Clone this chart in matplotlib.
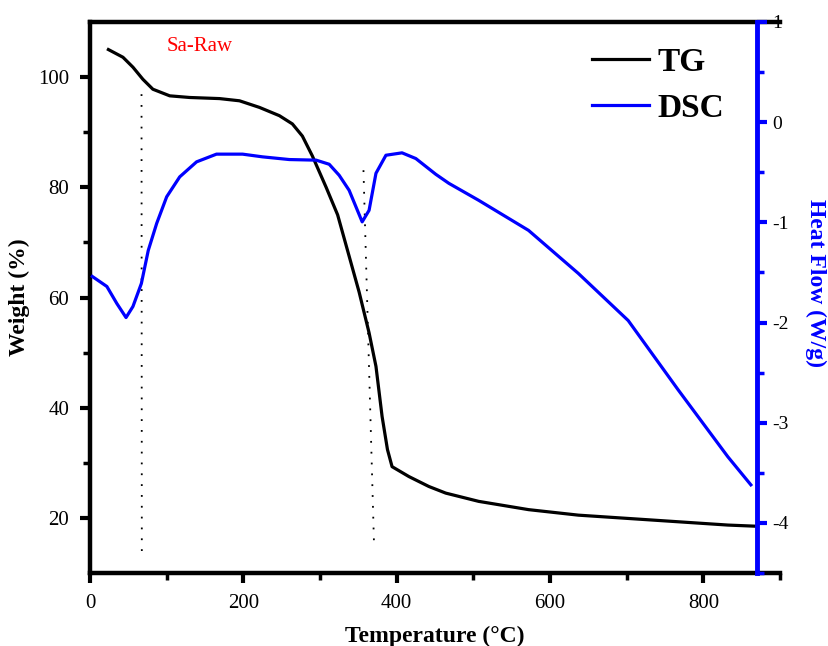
import matplotlib
matplotlib.use("Agg")
import matplotlib.pyplot as plt
from matplotlib.ticker import MultipleLocator

plt.rcParams["font.family"] = ["Liberation Serif", "DejaVu Serif"]
plt.rcParams["axes.unicode_minus"] = False

# TG curve (temperature in C, weight in %)
tg_temp = [24, 43, 56, 69, 82, 104, 130, 169, 195, 221, 247, 264, 277, 290,
           308, 323, 338, 351, 364, 373, 381, 388, 394, 416, 442, 464, 507,
           572, 637, 702, 767, 832, 867]
tg_weight = [105.0, 103.6, 101.8, 99.6, 97.8, 96.6, 96.3, 96.1, 95.7, 94.5,
             93.0, 91.5, 89.3, 85.7, 80.0, 75.0, 67.5, 61.0, 53.6, 47.5, 38.4,
             32.4, 29.3, 27.5, 25.7, 24.5, 23.0, 21.5, 20.5, 19.9, 19.3, 18.7,
             18.5]

# DSC curve (temperature in C, heat flow in W/g)
dsc_temp = [3, 22, 35, 47, 56, 67, 76, 87, 100, 117, 139, 165, 199, 225, 260,
            295, 312, 325, 338, 355, 364, 373, 386, 407, 425, 451, 468, 507,
            572, 637, 702, 767, 832, 862]
dsc_flow = [-1.54, -1.64, -1.81, -1.95, -1.84, -1.61, -1.28, -1.01, -0.745,
            -0.546, -0.396, -0.319, -0.319, -0.346, -0.373, -0.379, -0.42,
            -0.53, -0.68, -0.995, -0.88, -0.51, -0.33, -0.306, -0.363, -0.52,
            -0.61, -0.78, -1.08, -1.51, -1.98, -2.67, -3.34, -3.62]

# dotted guide lines (temperature, weight) endpoints
guide1_temp = [67.2, 67.6]
guide1_weight = [96.9, 12.7]
guide2_temp = [356.7, 370.6]
guide2_weight = [83.1, 14.5]

fig = plt.figure(figsize=(8.29, 6.46), dpi=100)
ax = fig.add_axes([90 / 829, 1 - 573 / 646, 690 / 829, 551 / 646])
ax.set_xlim(0, 900)
ax.set_ylim(10, 110)

line_tg, = ax.plot(tg_temp, tg_weight, color="black", lw=2.3, label="TG")
ax.plot(guide1_temp, guide1_weight, color="black", lw=1.3, ls=(0, (1, 5)))
ax.plot(guide2_temp, guide2_weight, color="black", lw=1.3, ls=(0, (1, 5)))
ax.text(143, 105.5, "Sa-Raw", color="red", fontsize=15, ha="center", va="center")

for s in ["left", "bottom", "top"]:
    ax.spines[s].set_linewidth(3.2)
ax.spines["right"].set_visible(False)

ax.xaxis.set_major_locator(MultipleLocator(200))
ax.xaxis.set_minor_locator(MultipleLocator(100))
ax.set_yticks([20, 40, 60, 80, 100])
ax.set_yticks([30, 50, 70, 90], minor=True)
ax.tick_params(which="major", direction="out", length=7, width=3, labelsize=15, pad=8)
ax.tick_params(which="minor", direction="out", length=5, width=2.5)
ax.tick_params(axis="x", top=False)

ax.set_xlabel("Temperature (°C)", fontsize=17, fontweight="bold", labelpad=9)
ax.set_ylabel("Weight (%)", fontsize=17, fontweight="bold", labelpad=6)

ax2 = ax.twinx()
ax2.set_ylim(-4.5, 1.0)
line_dsc, = ax2.plot(dsc_temp, dsc_flow, color="blue", lw=2.3, label="DSC")
for s in ["left", "bottom", "top"]:
    ax2.spines[s].set_visible(False)
ax2.spines["right"].set_position(("data", 870))
ax2.spines["right"].set_color("blue")
ax2.spines["right"].set_linewidth(3.5)
ax2.yaxis.set_major_locator(MultipleLocator(1))
ax2.yaxis.set_minor_locator(MultipleLocator(0.5))
ax2.tick_params(which="major", direction="out", length=7, width=3,
                color="blue", labelcolor="black", labelsize=14, pad=4)
ax2.tick_params(which="minor", direction="out", length=5, width=2.5, color="blue")

fig.text(816 / 829, 1 - 283 / 646, "Heat Flow (W/g)", color="blue", fontsize=17,
         fontweight="bold", rotation=270, ha="center", va="center")

ax.legend(handles=[line_tg, line_dsc], loc="upper left",
          bbox_to_anchor=(592 / 829, 1 - 47 / 646), bbox_transform=fig.transFigure,
          frameon=False, borderpad=0, borderaxespad=0, handlelength=1.7,
          handletextpad=0.25, labelspacing=0.45,
          prop={"family": "Liberation Serif", "size": 24, "weight": "bold"})

fig.savefig("out.png", dpi=100)
